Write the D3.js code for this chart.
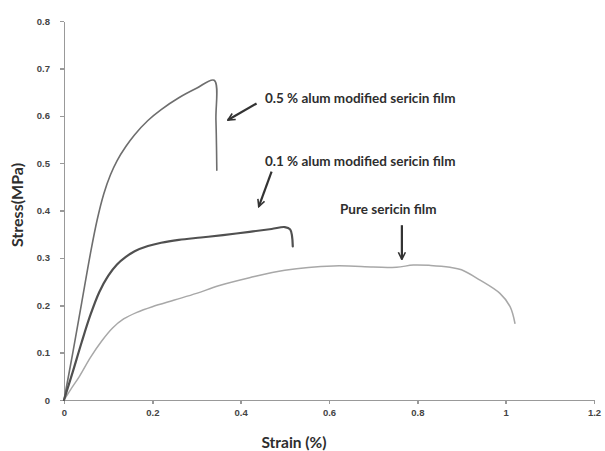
<!DOCTYPE html>
<html lang="en">
<head>
    <meta charset="UTF-8">
    <title>Stress-strain curves of sericin films</title>
    <script src="https://d3js.org/d3.v7.min.js"></script>
    <style>
        body { margin: 0; padding: 0; background: #fff; }
        svg { display: block; font-family: Lato, "Open Sans", sans-serif; }
        .axis path, .axis line { stroke: #999; stroke-width: 1.5px; shape-rendering: crispEdges; }
        .axis text { font-size: 9.5px; font-weight: bold; fill: #444; }
        .title { font-weight: bold; fill: #2e2e2e; }
        .note { font-size: 13.5px; font-weight: bold; fill: #2e2e2e; }
        .curve { fill: none; stroke-linejoin: round; stroke-linecap: round; }
    </style>
</head>
<body>
<svg width="605" height="451"></svg>
<script>
    // strain (%), stress (MPa)
    const alum05 = [
        [0, 0], [0.02, 0.100], [0.04, 0.205], [0.06, 0.310], [0.075, 0.380],
        [0.09, 0.435], [0.105, 0.475], [0.12, 0.505], [0.14, 0.535], [0.16, 0.560],
        [0.19, 0.590], [0.22, 0.613], [0.26, 0.638], [0.30, 0.658], [0.340, 0.675],
        [0.344, 0.591], [0.346, 0.485]
    ];
    const alum01 = [
        [0, 0], [0.02, 0.060], [0.04, 0.122], [0.06, 0.180], [0.08, 0.228],
        [0.10, 0.262], [0.12, 0.286], [0.14, 0.302], [0.16, 0.314], [0.19, 0.325],
        [0.22, 0.332], [0.26, 0.338], [0.31, 0.343], [0.36, 0.348], [0.42, 0.355],
        [0.47, 0.361], [0.50, 0.365], [0.512, 0.360], [0.518, 0.324]
    ];
    const pure = [
        [0, 0], [0.015, 0.022], [0.035, 0.050], [0.06, 0.090], [0.085, 0.124],
        [0.11, 0.152], [0.135, 0.171], [0.165, 0.185], [0.20, 0.197], [0.25, 0.211],
        [0.30, 0.225], [0.35, 0.241], [0.42, 0.258], [0.50, 0.274], [0.61, 0.283],
        [0.70, 0.281], [0.753, 0.280], [0.791, 0.285], [0.83, 0.284], [0.874, 0.280],
        [0.90, 0.275], [0.942, 0.253], [0.987, 0.225], [1.010, 0.197], [1.021, 0.162]
    ];

    const xTicks = [0, 0.2, 0.4, 0.6, 0.8, 1, 1.2];
    const yTicks = [0, 0.1, 0.2, 0.3, 0.4, 0.5, 0.6, 0.7, 0.8];

    // label text, text anchor, arrow tail, arrow head (data units)
    const notes = [
        { text: "0.5 % alum modified sericin film", at: [0.455, 0.637], from: [0.436, 0.626], to: [0.371, 0.591] },
        { text: "0.1 % alum modified sericin film", at: [0.455, 0.503], from: [0.470, 0.482], to: [0.441, 0.408] },
        { text: "Pure sericin film", at: [0.625, 0.403], from: [0.765, 0.369], to: [0.765, 0.297] }
    ];

    const svg = d3.select("svg");

    const x = d3.scaleLinear().domain([0, 1.2]).range([64, 594]);
    const y = d3.scaleLinear().domain([0, 0.8]).range([400, 21]);

    svg.append("g")
        .attr("class", "axis")
        .attr("transform", "translate(0,400)")
        .call(d3.axisBottom(x).tickValues(xTicks).tickSize(4).tickSizeOuter(0)
            .tickFormat(d3.format("")))
        .call(g => g.selectAll("text").attr("dy", "0.95em"));

    svg.append("g")
        .attr("class", "axis")
        .attr("transform", "translate(64,0)")
        .call(d3.axisLeft(y).tickValues(yTicks).tickSize(4).tickSizeOuter(0)
            .tickFormat(d3.format("")))
        .call(g => g.selectAll("text").attr("x", -14));

    svg.append("text")
        .attr("class", "title")
        .attr("x", 294)
        .attr("y", 448)
        .attr("text-anchor", "middle")
        .style("font-size", "15.5px")
        .text("Strain (%)");

    svg.append("text")
        .attr("class", "title")
        .attr("transform", "translate(23,205) rotate(-90)")
        .attr("text-anchor", "middle")
        .style("font-size", "16px")
        .text("Stress(MPa)");

    const line = d3.line()
        .x(d => x(d[0]))
        .y(d => y(d[1]))
        .curve(d3.curveCatmullRom.alpha(0.5));

    svg.append("path").datum(pure).attr("class", "curve")
        .attr("stroke", "#a8a8a8").attr("stroke-width", 1.5).attr("d", line);
    svg.append("path").datum(alum05).attr("class", "curve")
        .attr("stroke", "#6e6e6e").attr("stroke-width", 1.6).attr("d", line);
    svg.append("path").datum(alum01).attr("class", "curve")
        .attr("stroke", "#505050").attr("stroke-width", 2.2).attr("d", line);

    svg.append("defs").append("marker")
        .attr("id", "head")
        .attr("viewBox", "0 0 10 10")
        .attr("refX", 9).attr("refY", 5)
        .attr("markerWidth", 4).attr("markerHeight", 4)
        .attr("orient", "auto")
        .append("path")
        .attr("d", "M1,1 L9,5 L1,9")
        .attr("fill", "none")
        .attr("stroke", "#333")
        .attr("stroke-width", 1.8);

    const ann = svg.append("g");
    notes.forEach(n => {
        ann.append("text")
            .attr("class", "note")
            .attr("x", x(n.at[0]))
            .attr("y", y(n.at[1]))
            .attr("dy", "0.35em")
            .text(n.text);
        ann.append("line")
            .attr("x1", x(n.from[0])).attr("y1", y(n.from[1]))
            .attr("x2", x(n.to[0])).attr("y2", y(n.to[1]))
            .attr("stroke", "#333")
            .attr("stroke-width", 2.2)
            .attr("marker-end", "url(#head)");
    });
</script>
</body>
</html>
